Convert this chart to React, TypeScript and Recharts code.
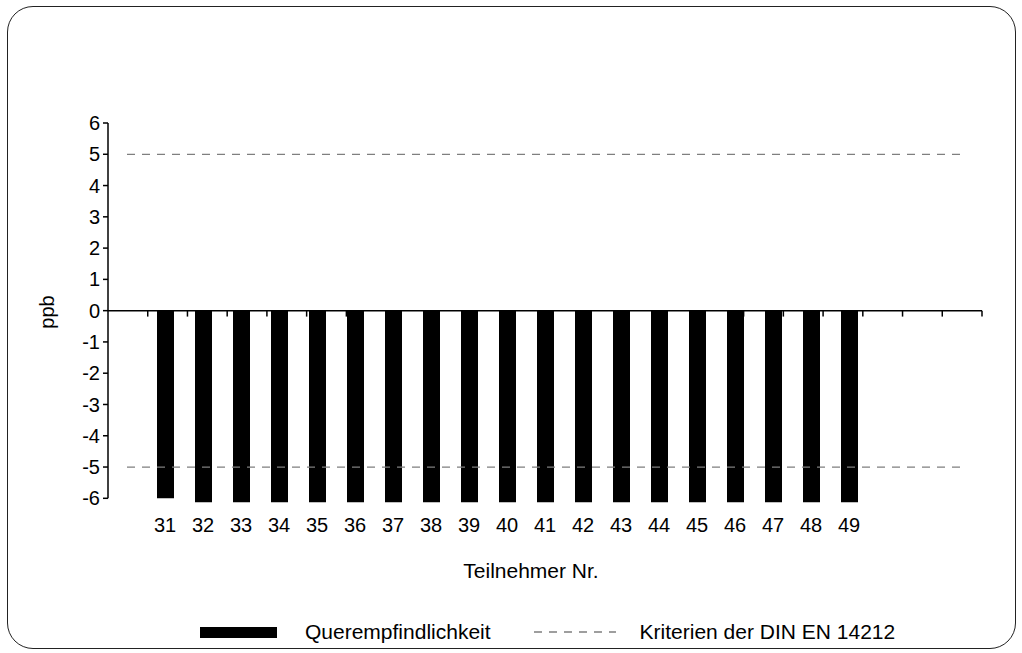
import { ComposedChart, Bar, Line, XAxis, YAxis, ReferenceLine, Legend } from "recharts"

// Teilnehmer (leere Plätze links und rechts wie im Original)
const teilnehmer = ["", "31", "32", "33", "34", "35", "36", "37", "38", "39", "40", "41", "42", "43", "44", "45", "46", "47", "48", "49", "", "", ""]
const querempfindlichkeit = [null, -6.0, -6.13, -6.13, -6.13, -6.13, -6.13, -6.13, -6.13, -6.13, -6.13, -6.13, -6.13, -6.13, -6.13, -6.13, -6.13, -6.13, -6.13, -6.13, null, null, null]
const kriteriumOben = 5
const kriteriumUnten = -5
const yTicks = [-6, -5, -4, -3, -2, -1, 0, 1, 2, 3, 4, 5, 6]

const chartData = teilnehmer.map((name, i) => ({
  name,
  wert: querempfindlichkeit[i],
  oben: kriteriumOben,
  unten: kriteriumUnten,
}))

const FONT = "'Liberation Sans', Arial, sans-serif"
const GRAY = "#7f7f7f"

function LegendContent() {
  return (
    <div style={{ display: "flex", alignItems: "center", height: 24, fontFamily: FONT, fontSize: 21, color: "#000" }}>
      <div style={{ width: 77, height: 11, background: "#000", marginLeft: 200 }} />
      <span style={{ marginLeft: 28 }}>Querempfindlichkeit</span>
      <svg width={82} height={12} style={{ marginLeft: 43 }}>
        <line x1={0} y1={6} x2={82} y2={6} stroke={GRAY} strokeWidth={1.3} strokeDasharray="8 7" />
      </svg>
      <span style={{ marginLeft: 24 }}>Kriterien der DIN EN 14212</span>
    </div>
  )
}

export default function App() {
  return (
    <div style={{ position: "absolute", left: 0, top: 0, width: 1022, height: 653, background: "#fff" }}>
      <div
        style={{
          position: "absolute",
          left: 7,
          top: 6,
          width: 1007,
          height: 641,
          border: "1.5px solid #222",
          borderRadius: 26,
        }}
      />
      <div
        style={{
          position: "absolute",
          left: 47,
          top: 312,
          transform: "translate(-50%, -50%) rotate(-90deg)",
          fontFamily: FONT,
          fontSize: 20,
        }}
      >
        ppb
      </div>
      <div style={{ position: "absolute", left: 0, top: 0 }}>
        <ComposedChart
          width={1022}
          height={653}
          data={chartData}
          margin={{ top: 123, right: 40, bottom: 48, left: 48 }}
          barCategoryGap={0}
        >
          <XAxis
            dataKey="name"
            axisLine={false}
            tickLine={false}
            tickSize={0}
            tickMargin={15}
            height={78}
            interval={0}
            tick={{ fill: "#000", fontSize: 20, fontFamily: FONT }}
            label={{ value: "Teilnehmer Nr.", position: "insideBottom", offset: 3, dx: -14, fill: "#000", fontSize: 21, fontFamily: FONT }}
          />
          <XAxis xAxisId="n" type="number" domain={[0, teilnehmer.length]} hide />
          <YAxis
            width={60}
            domain={[-6.15, 6]}
            ticks={yTicks}
            allowDataOverflow
            axisLine={false}
            tickLine={{ stroke: "#000", strokeWidth: 1.5 }}
            tickSize={5}
            tickMargin={3}
            tick={{ fill: "#000", fontSize: 20, fontFamily: FONT }}
          />
          <ReferenceLine
            xAxisId="n"
            segment={[{ x: 0, y: -6 }, { x: 0, y: 6 }]}
            stroke="#000"
            strokeWidth={1.5}
          />
          <ReferenceLine xAxisId="n" y={0} stroke="#000" strokeWidth={1.5} />
          {teilnehmer.map((_, i) => (
            <ReferenceLine
              key={i}
              xAxisId="n"
              segment={[{ x: i + 1, y: 0 }, { x: i + 1, y: -0.19 }]}
              stroke="#000"
              strokeWidth={1.5}
            />
          ))}
          <Bar dataKey="wert" name="Querempfindlichkeit" fill="#000" barSize={17} isAnimationActive={false} />
          <Line dataKey="oben" name="Kriterien der DIN EN 14212" stroke={GRAY} strokeWidth={1.3} strokeDasharray="8 7" dot={false} activeDot={false} isAnimationActive={false} />
          <Line dataKey="unten" legendType="none" stroke={GRAY} strokeWidth={1.3} strokeDasharray="8 7" dot={false} activeDot={false} isAnimationActive={false} />
          <Legend content={<LegendContent />} wrapperStyle={{ position: "absolute", left: 0, top: 620, width: 1022 }} />
        </ComposedChart>
      </div>
    </div>
  )
}
